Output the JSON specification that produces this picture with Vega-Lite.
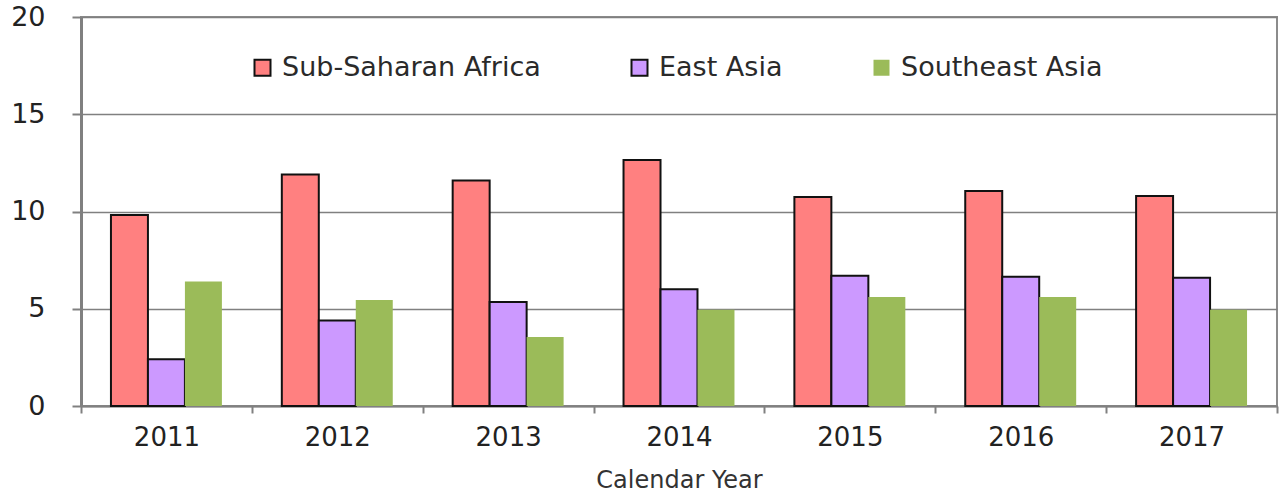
{
  "$schema": "https://vega.github.io/schema/vega-lite/v6.json",
  "width": 1196,
  "height": 389,
  "autosize": {"type": "none"},
  "padding": {"left": 81, "top": 17, "right": 6, "bottom": 92},
  "background": "white",
  "config": {
    "view": {"stroke": "#8c8c8c", "strokeWidth": 2},
    "font": "DejaVu Sans"
  },
  "data": {
    "values": [
      {"year": "2011", "series": "Sub-Saharan Africa", "value": 9.82},
      {"year": "2011", "series": "East Asia", "value": 2.4},
      {"year": "2011", "series": "Southeast Asia", "value": 6.4},
      {"year": "2012", "series": "Sub-Saharan Africa", "value": 11.9},
      {"year": "2012", "series": "East Asia", "value": 4.4},
      {"year": "2012", "series": "Southeast Asia", "value": 5.45},
      {"year": "2013", "series": "Sub-Saharan Africa", "value": 11.6},
      {"year": "2013", "series": "East Asia", "value": 5.35},
      {"year": "2013", "series": "Southeast Asia", "value": 3.55},
      {"year": "2014", "series": "Sub-Saharan Africa", "value": 12.65},
      {"year": "2014", "series": "East Asia", "value": 6.0},
      {"year": "2014", "series": "Southeast Asia", "value": 4.95},
      {"year": "2015", "series": "Sub-Saharan Africa", "value": 10.75},
      {"year": "2015", "series": "East Asia", "value": 6.7},
      {"year": "2015", "series": "Southeast Asia", "value": 5.6},
      {"year": "2016", "series": "Sub-Saharan Africa", "value": 11.05},
      {"year": "2016", "series": "East Asia", "value": 6.65},
      {"year": "2016", "series": "Southeast Asia", "value": 5.6},
      {"year": "2017", "series": "Sub-Saharan Africa", "value": 10.8},
      {"year": "2017", "series": "East Asia", "value": 6.6},
      {"year": "2017", "series": "Southeast Asia", "value": 4.95}
    ]
  },
  "mark": {"type": "bar", "strokeWidth": 2},
  "encoding": {
    "x": {
      "field": "year",
      "type": "nominal",
      "scale": {"paddingInner": 0, "paddingOuter": 0},
      "axis": {
        "title": "Calendar Year",
        "labelAngle": 0,
        "labelFontSize": 26,
        "labelColor": "#222222",
        "labelPadding": 11,
        "tickBand": "extent",
        "tickSize": 7,
        "tickColor": "#808080",
        "tickWidth": 2,
        "domainColor": "#808080",
        "domainWidth": 2,
        "titleFontSize": 24,
        "titleFontWeight": "normal",
        "titleColor": "#333333",
        "titlePadding": 18
      }
    },
    "xOffset": {
      "field": "series",
      "type": "nominal",
      "sort": ["Sub-Saharan Africa", "East Asia", "Southeast Asia"],
      "scale": {"paddingInner": 0, "paddingOuter": 0.81}
    },
    "y": {
      "field": "value",
      "type": "quantitative",
      "scale": {"domain": [0, 20]},
      "axis": {
        "title": null,
        "values": [0, 5, 10, 15, 20],
        "labelFontSize": 27,
        "labelColor": "#222222",
        "labelPadding": 27,
        "tickSize": 9,
        "tickColor": "#808080",
        "tickWidth": 2,
        "domainColor": "#808080",
        "domainWidth": 3,
        "gridColor": "#808080",
        "gridWidth": 1.5
      }
    },
    "fill": {
      "field": "series",
      "type": "nominal",
      "sort": ["Sub-Saharan Africa", "East Asia", "Southeast Asia"],
      "scale": {"domain": ["Sub-Saharan Africa", "East Asia", "Southeast Asia"], "range": ["#ff8080", "#cc99ff", "#9bbb59"]},
      "legend": {
        "title": null,
        "orient": "none",
        "direction": "horizontal",
        "legendX": 168,
        "legendY": 37,
        "symbolType": "square",
        "symbolSize": 256,
        "symbolStrokeWidth": 2,
        "labelFontSize": 27,
        "labelColor": "#2a2a2a",
        "labelOffset": 6,
        "columnPadding": 85,
        "labelLimit": 400
      }
    },
    "stroke": {
      "field": "series",
      "type": "nominal",
      "sort": ["Sub-Saharan Africa", "East Asia", "Southeast Asia"],
      "scale": {"domain": ["Sub-Saharan Africa", "East Asia", "Southeast Asia"], "range": ["#111111", "#111111", "transparent"]},
      "legend": null
    }
  }
}
